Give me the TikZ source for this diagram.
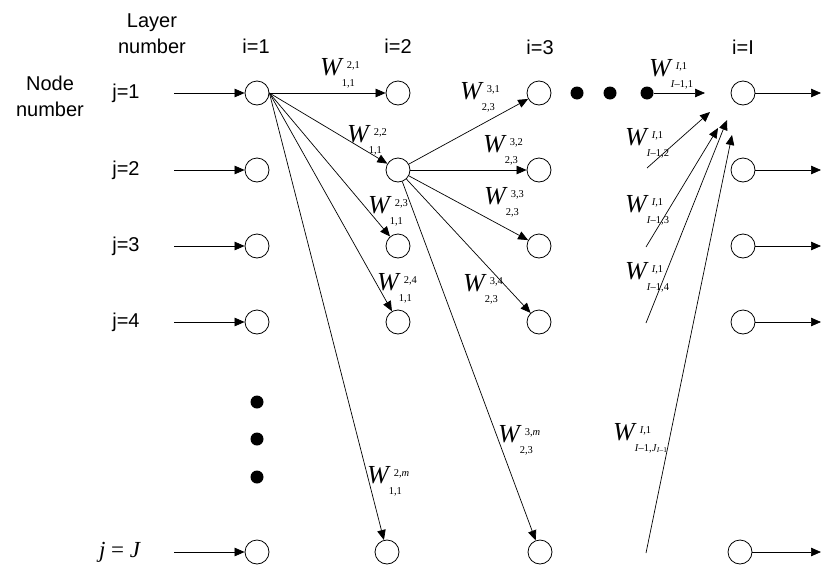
\documentclass[tikz,border=0pt]{standalone}
\usepackage{fontspec}
\setmainfont{Liberation Serif}
\setsansfont{Liberation Sans}
\usetikzlibrary{arrows.meta}

\newcommand{\wsm}{\fontsize{10.5}{10.5}\selectfont}
\newcommand{\wgt}[2]{\textit{W}\rlap{\hspace{3pt}\raisebox{7pt}{\wsm #1}}\hspace{-2pt}\raisebox{-11pt}{\wsm #2}}

\tikzset{
    neuron/.style={draw, circle, minimum size=24pt, inner sep=0pt, line width=0.8pt},
    bigdot/.style={fill, circle, minimum size=13pt, inner sep=0pt},
    wire/.style={line width=0.7pt, -{Triangle[length=10pt,width=8.5pt]}},
    lbl/.style={font=\sffamily\fontsize{20}{26}\selectfont, align=center, inner sep=0pt},
    wlab/.style={anchor=base west, inner sep=0pt, font=\fontsize{26}{26}\selectfont}
}

\begin{document}
\begin{tikzpicture}[x=1pt, y=-1pt]
        \useasboundingbox (0,0) rectangle (822,568);

        % headings
        \node[lbl] (layer) at (152,34) {Layer\\number};
        \node[lbl] (nodenum) at (50,96) {Node\\number};
        \node[lbl] (i1) at (256,46) {i=1};
        \node[lbl] (i2) at (398,46) {i=2};
        \node[lbl] (i3) at (540,47) {i=3};
        \node[lbl] (iL) at (743,47) {i=I};

        % neurons
        \foreach \c/\x in {1/257, 2/398, 3/539, L/743} {
            \foreach \j/\y in {1/93, 2/170, 3/246, 4/322} {
                \node[neuron] (n\c\j) at (\x,\y) {};
            }
        }
        \node[neuron] (n1J) at (257,552) {};
        \node[neuron] (n2J) at (387,552) {};
        \node[neuron] (n3J) at (540,552) {};
        \node[neuron] (nLJ) at (740,552) {};

        % inputs and outputs
        \foreach \j/\y in {1/93, 2/170, 3/246, 4/322} {
            \node[lbl] (r\j) at (126,\y) {j=\j};
            \coordinate (s\j) at (174,\y);
            \coordinate (o\j) at (821,\y);
            \draw[wire] (s\j) -- (n1\j);
            \draw[wire] (nL\j) -- (o\j);
        }
        \node[inner sep=0pt, font=\fontsize{23}{23}\selectfont] (rJ) at (120,552) {\textit{j} = \textit{J}};
        \coordinate (sJ) at (174,552);
        \coordinate (oJ) at (821,552);
        \draw[wire] (sJ) -- (n1J);
        \draw[wire] (nLJ) -- (oJ);

        % dots
        \foreach \y [count=\k] in {402, 439, 477}
            \node[bigdot] (v\k) at (257,\y) {};
        \foreach \x [count=\k] in {577, 610, 647}
            \node[bigdot] (d\k) at (\x,93) {};

        % weights
        \foreach \j in {1,2,3,4,J} {
            \draw[wire] (n11.east) -- (n2\j);
            \draw[wire] (n22) -- (n3\j);
        }
        \coordinate (tL1) at (705,93);
        \draw[wire] (d3) -- (tL1);
        \foreach \k/\a/\b/\c/\d in {2/647/168/710/112, 3/646/247/718/128, 4/646/323/727/120, J/646/553/732/135} {
            \coordinate (f\k) at (\a,\b);
            \coordinate (tL\k) at (\c,\d);
            \draw[wire] (f\k) -- (tL\k);
        }

        \node[wlab] (w21) at (320,75) {\wgt{2,1}{1,1}};
        \node[wlab] (w22) at (347,142) {\wgt{2,2}{1,1}};
        \node[wlab] (w23) at (368,213) {\wgt{2,3}{1,1}};
        \node[wlab] (w24) at (377,290) {\wgt{2,4}{1,1}};
        \node[wlab] (w2m) at (367,483) {\wgt{2,\textit{m}}{1,1}};
        \node[wlab] (w31) at (460,99) {\wgt{3,1}{2,3}};
        \node[wlab] (w32) at (483,152) {\wgt{3,2}{2,3}};
        \node[wlab] (w33) at (484,204) {\wgt{3,3}{2,3}};
        \node[wlab] (w34) at (463,291) {\wgt{3,4}{2,3}};
        \node[wlab] (w3m) at (498,442) {\wgt{3,\textit{m}}{2,3}};
        \node[wlab] (wL1) at (649,76) {\wgt{\textit{I},1}{\textit{I}–1,1}};
        \node[wlab] (wL2) at (625,145) {\wgt{\textit{I},1}{\textit{I}–1,2}};
        \node[wlab] (wL3) at (625,212) {\wgt{\textit{I},1}{\textit{I}–1,3}};
        \node[wlab] (wL4) at (625,279) {\wgt{\textit{I},1}{\textit{I}–1,4}};
        \node[wlab] (wLJ) at (613,440) {\wgt{\textit{I},1}{\textit{I}–1,\textit{J}\textsubscript{\textit{I}–1}}};
\end{tikzpicture}
\end{document}
